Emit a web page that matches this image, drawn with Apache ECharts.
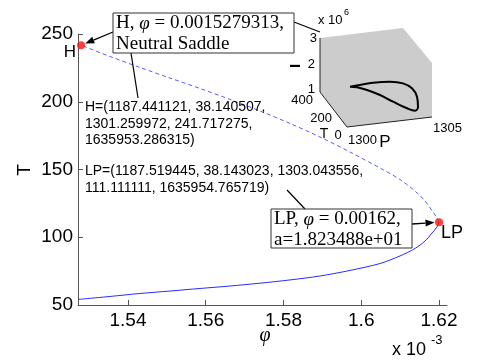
<!DOCTYPE html>
<html><head><meta charset="utf-8">
<script src="https://cdn.jsdelivr.net/npm/echarts@6/dist/echarts.min.js"></script>
<style>html,body{margin:0;padding:0;background:#fff}#c{width:496px;height:361px}</style>
</head><body><div id="c"></div>
<script>
// ---- data (phi in units of 1e-3) ----
const xTicks = [1.54, 1.56, 1.58, 1.6, 1.62];
const yTicks = [50, 100, 150, 200, 250];
const stablePhi = [1.52714, 1.53537, 1.54309, 1.55080, 1.55852, 1.56624, 1.57395, 1.58167, 1.58939, 1.59710, 1.60482, 1.60997, 1.61382, 1.61640, 1.61820, 1.61949, 1.62];
const stableT   = [54.1, 56.3, 58.5, 60.3, 62.2, 64.0, 66.1, 68.5, 71.4, 75.5, 80.6, 86.2, 91.7, 97.2, 103.1, 107.6, 111.111];
const unstablePhi = [1.62, 1.61949, 1.61820, 1.61640, 1.61382, 1.60997, 1.60482, 1.59710, 1.58939, 1.58167, 1.57395, 1.56624, 1.55852, 1.55080, 1.54309, 1.53537, 1.5279313];
const unstableT   = [111.111, 114.2, 119.7, 126.8, 134.1, 142.6, 151.1, 162.9, 174.0, 184.0, 193.2, 201.7, 209.8, 217.5, 225.3, 233.4, 241.717];
const hPoint = [1.5279313, 241.717275];
const lpPoint = [1.62, 111.111111];
// inset limit cycle, projected (normalized inset coordinates)
const loopX = [0.268, 0.357, 0.473, 0.625, 0.741, 0.821, 0.866, 0.875, 0.848, 0.777, 0.652, 0.536, 0.420, 0.330, 0.268];
const loopY = [0.407, 0.424, 0.447, 0.458, 0.441, 0.391, 0.306, 0.205, 0.165, 0.189, 0.256, 0.323, 0.374, 0.401, 0.407];

const zip = (a, b) => a.map((v, i) => [v, b[i]]);
const chart = echarts.init(document.getElementById('c'), null, {renderer: 'canvas'});
const SANS = 'Liberation Sans, Arial, sans-serif';
const SERIF = 'Liberation Serif, Times New Roman, serif';
const axCol = '#555';

chart.setOption({
  animation: false,
  backgroundColor: '#fff',
  grid: [
    {left: 78, top: 34, right: 49, bottom: 56, containLabel: false, outerBoundsMode: 'none'},
    {left: 320, top: 28, width: 112, height: 99, containLabel: false, outerBoundsMode: 'none'}
  ],
  xAxis: [
    {type: 'value', gridIndex: 0, min: 1.52714, max: 1.62206,
     axisLine: {show: true, onZero: false, lineStyle: {color: axCol, width: 1}},
     axisTick: {show: true, inside: true, length: 5, customValues: xTicks, lineStyle: {color: axCol}},
     axisLabel: {customValues: xTicks, color: '#000', fontSize: 19, fontFamily: SANS, margin: 6},
     splitLine: {show: false}},
    {type: 'value', gridIndex: 1, min: 0, max: 1, show: false}
  ],
  yAxis: [
    {type: 'value', gridIndex: 0, min: 50, max: 250, interval: 50,
     axisLine: {show: true, onZero: false, lineStyle: {color: axCol, width: 1}},
     axisTick: {show: true, inside: true, length: 5, lineStyle: {color: axCol}},
     axisLabel: {color: '#000', fontSize: 19, fontFamily: SANS, margin: 5},
     splitLine: {show: false}},
    {type: 'value', gridIndex: 1, min: 0, max: 1, show: false}
  ],
  series: [
    {type: 'line', xAxisIndex: 0, yAxisIndex: 0, data: zip(stablePhi, stableT), showSymbol: false, smooth: 0.3,
     lineStyle: {color: '#2b2bff', width: 1}, z: 3},
    {type: 'line', xAxisIndex: 0, yAxisIndex: 0, data: zip(unstablePhi, unstableT), showSymbol: false, smooth: 0.3,
     lineStyle: {color: '#5a5aff', width: 1, type: [4, 3]}, z: 3},
    {type: 'scatter', xAxisIndex: 0, yAxisIndex: 0, data: [hPoint, lpPoint], symbolSize: 8,
     itemStyle: {color: '#ff1010'}, z: 5},
    {type: 'line', xAxisIndex: 1, yAxisIndex: 1, data: zip(loopX, loopY), showSymbol: false, smooth: 0.4,
     lineStyle: {color: '#000', width: 2}, z: 10}
  ]
});

function arrow(x1, y1, x2, y2) {
  const a = Math.atan2(y2 - y1, x2 - x1), L = 9, W = 3.5;
  const bx = x2 - L * Math.cos(a), by = y2 - L * Math.sin(a);
  return [
    {type: 'line', z: 20, shape: {x1, y1, x2: bx, y2: by}, style: {stroke: '#000', lineWidth: 1.3}},
    {type: 'polygon', z: 20, shape: {points: [[x2, y2], [bx - W * Math.sin(a), by + W * Math.cos(a)], [bx + W * Math.sin(a), by - W * Math.cos(a)]]}, style: {fill: '#000'}}
  ];
}
function towards(p, q, d) { const dx = q[0] - p[0], dy = q[1] - p[1], n = Math.hypot(dx, dy); return [p[0] + dx / n * d, p[1] + dy / n * d]; }

const hPx = chart.convertToPixel({gridIndex: 0}, hPoint);
const lpPx = chart.convertToPixel({gridIndex: 0}, lpPoint);
const hEnd = towards(hPx, [113, 32], 4.5);
const lpEnd = towards(lpPx, [412, 224], 4.5);

const txt = (x, y, text, o) => Object.assign({type: 'text', x, y, z: 30, style: Object.assign({text, fill: '#000', font: '14px ' + SANS}, o || {})});
const richPhi = {i: {fontStyle: 'italic', fontFamily: SERIF, fontSize: 19}};

const g = [
  // inset box
  {type: 'polygon', z: 1, shape: {points: [[320, 38], [403, 28], [432, 63], [432, 117], [347, 127], [320, 92]]}, style: {fill: '#cccccc'}},
  {type: 'polyline', z: 2, shape: {points: [[320, 38], [320, 92], [347, 127], [432, 117]]}, style: {stroke: '#222', lineWidth: 1, fill: null}},
  txt(317, 38, '3', {font: '13px ' + SANS, align: 'right', verticalAlign: 'middle'}),
  txt(315, 64, '2', {font: '13px ' + SANS, align: 'right', verticalAlign: 'middle'}),
  txt(315, 89, '1', {font: '13px ' + SANS, align: 'right', verticalAlign: 'middle'}),
  Object.assign(txt(296, 66, 'I', {font: 'bold 15px ' + SANS, align: 'center', verticalAlign: 'middle'}), {rotation: Math.PI / 2}),
  txt(318, 20, 'x 10', {font: '13px ' + SANS, verticalAlign: 'middle'}),
  txt(344, 13, '6', {font: '9px ' + SANS, verticalAlign: 'middle'}),
  txt(313, 100, '400', {font: '13px ' + SANS, align: 'right', verticalAlign: 'middle'}),
  txt(332, 118, '200', {font: '13px ' + SANS, align: 'right', verticalAlign: 'middle'}),
  txt(324, 134, 'T', {font: '14px ' + SANS, align: 'center', verticalAlign: 'middle'}),
  txt(338, 135, '0', {font: '13px ' + SANS, align: 'center', verticalAlign: 'middle'}),
  txt(348, 140, '1300', {font: '13px ' + SANS, verticalAlign: 'middle'}),
  txt(385, 142, 'P', {font: '17px ' + SANS, align: 'center', verticalAlign: 'middle'}),
  txt(433, 128, '1305', {font: '13px ' + SANS, verticalAlign: 'middle'}),
  // axis names
  Object.assign(txt(25, 170, 'T', {font: '19px ' + SANS, align: 'center', verticalAlign: 'middle'}), {rotation: Math.PI / 2}),
  txt(265, 336, 'φ', {font: 'italic 20px ' + SERIF, align: 'center', verticalAlign: 'middle'}),
  txt(392, 350, 'x 10', {font: '18px ' + SANS, verticalAlign: 'middle'}),
  txt(431, 340, '-3', {font: '13px ' + SANS, verticalAlign: 'middle'}),
  // point labels
  txt(70, 52, 'H', {font: '17px ' + SANS, align: 'center', verticalAlign: 'middle'}),
  txt(452, 233, 'LP', {font: '18px ' + SANS, align: 'center', verticalAlign: 'middle'}),
  // coordinate texts
  txt(85, 99, 'H=(1187.441121, 38.140507,\n1301.259972, 241.717275,\n1635953.286315)', {lineHeight: 16.5, verticalAlign: 'top'}),
  txt(85, 163, 'LP=(1187.519445, 38.143023, 1303.043556,\n111.111111, 1635954.765719)', {lineHeight: 16.5, verticalAlign: 'top'}),
  // boxes
  {type: 'rect', z: 25, shape: {x: 113, y: 13, width: 181, height: 40}, style: {fill: '#fff', stroke: '#333', lineWidth: 1}},
  txt(116, 13, 'H, {i|φ} = 0.0015279313,\nNeutral Saddle', {font: '19px ' + SERIF, lineHeight: 21, verticalAlign: 'top', rich: richPhi}),
  {type: 'rect', z: 25, shape: {x: 271, y: 209, width: 141, height: 39}, style: {fill: '#fff', stroke: '#333', lineWidth: 1}},
  txt(274, 209, 'LP, {i|φ} = 0.00162,\na=1.823488e+01', {font: '19px ' + SERIF, lineHeight: 21, verticalAlign: 'top', rich: richPhi}),
  // connector lines
  {type: 'line', z: 20, shape: {x1: 131, y1: 53, x2: 138, y2: 98}, style: {stroke: '#000', lineWidth: 1.2}},
  {type: 'line', z: 20, shape: {x1: 294, y1: 22, x2: 320, y2: 32}, style: {stroke: '#000', lineWidth: 1.2}},
  {type: 'line', z: 20, shape: {x1: 287, y1: 190, x2: 305, y2: 209}, style: {stroke: '#000', lineWidth: 1.2}}
].concat(arrow(113, 32, hEnd[0], hEnd[1]), arrow(412, 224, lpEnd[0], lpEnd[1]));

chart.setOption({graphic: g});
</script></body></html>
